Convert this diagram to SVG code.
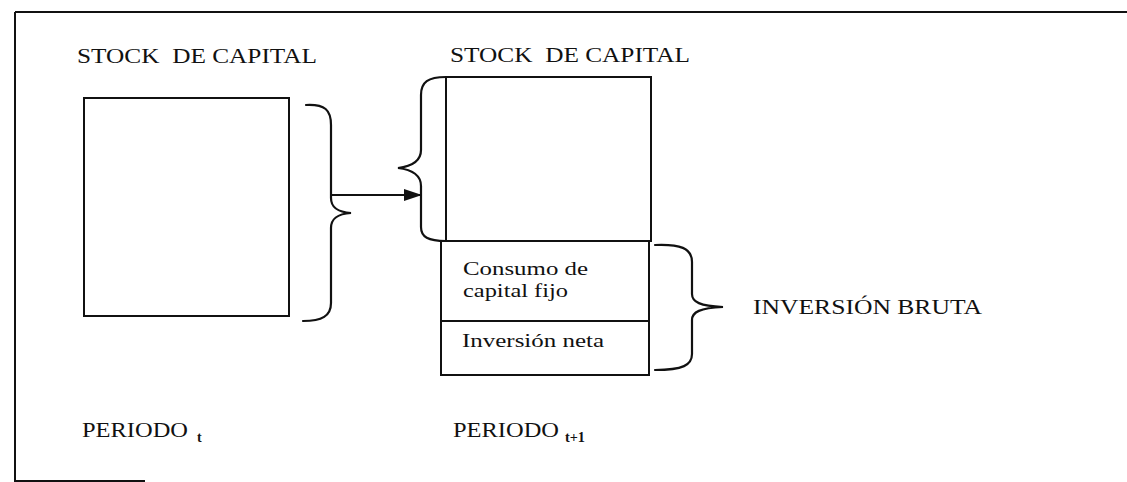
<svg xmlns="http://www.w3.org/2000/svg" width="1127" height="482" viewBox="0 0 1127 482">
<defs>
<style>
.t{font-family:"Liberation Serif","Times New Roman",serif;fill:#111;font-size:20px}
.c{font-family:"Liberation Serif","Times New Roman",serif;fill:#111;font-size:19px}
.s{font-family:"Liberation Serif","Times New Roman",serif;fill:#111;font-size:14px;font-weight:bold}
.box{fill:none;stroke:#111;stroke-width:2}
.br{fill:none;stroke:#111;stroke-width:2.2;stroke-linecap:round}
</style>
<marker id="ah" viewBox="0 0 18 12" refX="18" refY="6" markerWidth="18" markerHeight="12" markerUnits="userSpaceOnUse" orient="auto">
<path d="M0,0 L18,6 L0,12 Z" fill="#111"/>
</marker>
</defs>
<rect width="1127" height="482" fill="#fff"/>
<g id="frame">
<path d="M15,12 L1127,12" class="box"/>
<path d="M15,12 L15,481 L145,481" class="box"/>
</g>
<g id="periodo-t">
<text class="t" x="77" y="63" textLength="240" lengthAdjust="spacingAndGlyphs" xml:space="preserve">STOCK  DE CAPITAL</text>
<rect id="stock-t" class="box" x="84" y="98" width="205" height="218"/>
<text class="t" x="82" y="437" textLength="106" lengthAdjust="spacingAndGlyphs">PERIODO</text>
<text class="s" x="197" y="442">t</text>
</g>
<g id="periodo-t1">
<text class="t" x="450" y="62" textLength="240" lengthAdjust="spacingAndGlyphs" xml:space="preserve">STOCK  DE CAPITAL</text>
<rect id="stock-t1" class="box" x="446" y="77" width="205" height="164"/>
<g id="consumo">
<path class="box" d="M446,241 L441,241 L441,321 L649,321 L649,241"/>
<text class="c" x="463" y="275" textLength="125" lengthAdjust="spacingAndGlyphs">Consumo de</text>
<text class="c" x="463" y="297" textLength="105" lengthAdjust="spacingAndGlyphs">capital fijo</text>
</g>
<g id="inversion-neta">
<rect class="box" x="441" y="321" width="208" height="54"/>
<text class="c" x="462" y="347" textLength="142" lengthAdjust="spacingAndGlyphs">Inversión neta</text>
</g>
<text class="t" x="453" y="437" textLength="106" lengthAdjust="spacingAndGlyphs">PERIODO</text>
<text class="s" x="565" y="442" textLength="20" lengthAdjust="spacingAndGlyphs">t+1</text>
</g>
<g id="inversion-bruta">
<text class="t" x="753" y="314" textLength="229" lengthAdjust="spacingAndGlyphs">INVERSIÓN BRUTA</text>
</g>
<g id="connectors">
<path class="br" d="M306,105 C325,104 331,110 331,125 L331,198 C331,208 338,212 351,213 C338,214 331,218 331,228 L331,303 C331,316 322,321 303,321"/>
<path class="br" d="M446,77 C428,77 421,82 421,95 L421,150 C421,160 414,166 398,168 C414,170 421,176 421,186 L421,227 C421,237 428,241 446,241"/>
<path class="br" d="M655,245 C680,244 692,248 692,262 L692,294 C692,302 700,306 723,307 C700,308 692,312 692,320 L692,354 C692,365 683,370 655,370"/>
<path d="M331,195 L422,195" stroke="#111" stroke-width="2" fill="none" marker-end="url(#ah)"/>
</g>
</svg>
